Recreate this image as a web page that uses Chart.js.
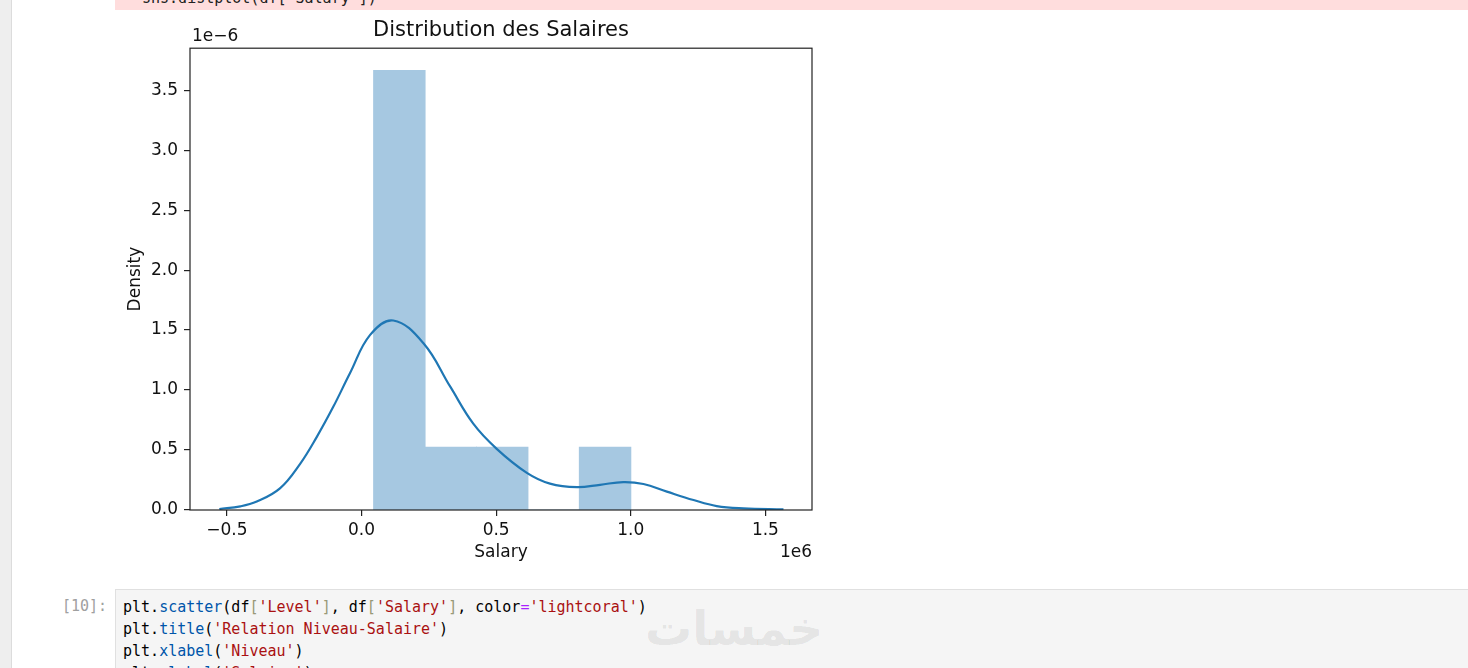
<!DOCTYPE html>
<html lang="fr">
<head>
<meta charset="UTF-8" />
<title>Distribution des Salaires</title>
<script src="https://cdnjs.cloudflare.com/ajax/libs/Chart.js/4.4.1/chart.umd.min.js"></script>
<style>
	body { margin:0; width:1468px; height:668px; overflow:hidden; background:#fff; position:relative; font-family:"DejaVu Sans", sans-serif; }
	#side { position:absolute; left:0; top:0; width:11px; height:668px; background:#eeeeee; border-right:1px solid #dcdcdc; }
	#err { position:absolute; left:115px; top:0; right:0; height:10px; background:#ffdddd; overflow:hidden; }
	#err pre { position:absolute; left:27px; top:-11px; margin:0; font:15px "DejaVu Sans Mono", monospace; color:#222; }
	#wrap { position:absolute; left:100px; top:15px; width:802px; height:560px; }
	#prompt { position:absolute; left:62px; top:597px; font:15px "DejaVu Sans Mono", monospace; color:#a0a0a0; }
	#cell { position:absolute; left:115px; top:589px; width:1360px; height:100px; background:#f5f5f5; border:1px solid #e0e0e0; }
	#cell pre { margin:0; padding:6px 0 0 7px; font:15px/22px "DejaVu Sans Mono", monospace; color:#000; }
	.p { color:#0055aa; } .s { color:#aa1111; } .o { color:#aa22ff; } .b { color:#999977; }
	#mark { position:absolute; left:645px; top:601px; font:bold 47px "DejaVu Sans", sans-serif; color:rgba(0,0,0,0.08); direction:rtl; }
</style>
</head>
<body>
	<div id="side"></div>
	<div id="err"><pre>sns.distplot(df['Salary'])</pre></div>
	<div id="wrap"><canvas id="t_chart" width="802" height="560"></canvas></div>
	<div id="prompt">[10]:</div>
	<div id="cell"><pre>plt.<span class="p">scatter</span>(df<span class="b">[</span><span class="s">'Level'</span><span class="b">]</span>, df<span class="b">[</span><span class="s">'Salary'</span><span class="b">]</span>, color<span class="o">=</span><span class="s">'lightcoral'</span>)
plt.<span class="p">title</span>(<span class="s">'Relation Niveau-Salaire'</span>)
plt.<span class="p">xlabel</span>(<span class="s">'Niveau'</span>)
plt.<span class="p">ylabel</span>(<span class="s">'Salaire'</span>)</pre></div>
	<div id="mark">خمسات</div>

	<script>
	// histogram (salary in 1e6, density in 1e-6)
	const binCenters = [0.1405, 0.3315, 0.5225, 0.7135, 0.9045];
	const binDensity = [3.665, 0.524, 0.524, 0, 0.524];

	// kde curve
	const kdeX = [-0.528, -0.45, -0.389, -0.303, -0.228, -0.166, -0.105, -0.043, 0.032, 0.118, 0.23, 0.329, 0.415, 0.502, 0.614, 0.700, 0.80, 0.886, 0.972, 1.047, 1.134, 1.233, 1.319, 1.418, 1.567];
	const kdeY = [0.008, 0.03, 0.07, 0.18, 0.385, 0.61, 0.86, 1.14, 1.46, 1.58, 1.39, 1.03, 0.72, 0.51, 0.31, 0.22, 0.19, 0.21, 0.233, 0.217, 0.153, 0.083, 0.033, 0.014, 0.006];

	const xTicks = [-0.5, 0.0, 0.5, 1.0, 1.5];
	const yTicks = [0.0, 0.5, 1.0, 1.5, 2.0, 2.5, 3.0, 3.5];

	const chartTitle = 'Distribution des Salaires';
	const xLabel = 'Salary';
	const yLabel = 'Density';
	const xOffsetText = '1e6';
	const yOffsetText = '1e\u22126';

	const blue = '#1f77b4';

	function fmt(v)
	{
		if (Math.abs(v) < 1e-9) v = 0;
		return v.toFixed(1).replace('-', '\u2212');
	}

	Chart.defaults.font.family = 'DejaVu Sans';
	Chart.defaults.color = '#111';

	//box + offset texts
	const frame = {
		id: 'frame',
		afterDraw(chart)
		{
			const {ctx, chartArea: a} = chart;
			ctx.save();
			ctx.strokeStyle = '#222';
			ctx.lineWidth = 1.2;
			ctx.strokeRect(a.left, a.top, a.right - a.left, a.bottom - a.top);
			ctx.fillStyle = '#111';
			ctx.font = '17px "DejaVu Sans"';
			ctx.textAlign = 'left';
			ctx.textBaseline = 'bottom';
			ctx.fillText(yOffsetText, a.left + 2, a.top - 3);
			ctx.textAlign = 'right';
			ctx.textBaseline = 'middle';
			ctx.fillText(xOffsetText, a.right, a.bottom + 43);
			ctx.restore();
		}
	};

	const tickGrid = {display: true, offset: false, drawOnChartArea: false, drawTicks: true, tickLength: 6, color: '#222', lineWidth: 1.2};

	let tmpChart = new Chart(document.getElementById('t_chart'), {
		type: 'line',
		data: {
			datasets: [
				{
					type: 'line',
					label: 'kde',
					data: kdeX.map((x, i) => ({x: x, y: kdeY[i]})),
					borderColor: blue,
					borderWidth: 2.2,
					pointRadius: 0,
					tension: 0.4,
					fill: false,
					order: 0
				},
				{
					type: 'bar',
					label: 'hist',
					data: binCenters.map((x, i) => ({x: x, y: binDensity[i]})),
					backgroundColor: 'rgb(166, 200, 225)',
					borderWidth: 0,
					inflateAmount: 0.5,
					barPercentage: 1,
					categoryPercentage: 1,
					order: 1
				}
			]
		},
		options: {
			responsive: false,
			animation: false,
			devicePixelRatio: 1,
			layout: {padding: {top: 0, right: 90, left: 0, bottom: 0}},
			plugins: {
				legend: {display: false},
				tooltip: {enabled: false},
				title: {
					display: true,
					text: chartTitle,
					fullSize: false,
					color: '#111',
					font: {size: 21, weight: 'normal'},
					padding: {top: 3, bottom: 5}
				}
			},
			scales: {
				x: {
					type: 'linear',
					min: -0.637,
					max: 1.673,
					offset: false,
					grid: tickGrid,
					border: {display: false},
					afterFit: (s) => { s.height = 65; },
					afterBuildTicks: (s) => { s.ticks = xTicks.map(v => ({value: v})); },
					ticks: {font: {size: 17}, padding: 4, maxRotation: 0, callback: (v) => fmt(v)},
					title: {display: true, text: xLabel, font: {size: 17}, padding: {top: 0, bottom: 12}}
				},
				y: {
					type: 'linear',
					min: 0,
					max: 3.85,
					grid: tickGrid,
					border: {display: false},
					afterFit: (s) => { s.width = 90; },
					afterBuildTicks: (s) => { s.ticks = yTicks.map(v => ({value: v})); },
					ticks: {font: {size: 17}, padding: 6, callback: (v) => fmt(v)},
					title: {display: true, text: yLabel, font: {size: 17}, padding: {top: 25, bottom: 0}}
				}
			}
		},
		plugins: [frame]
	});
	</script>
</body>
</html>
